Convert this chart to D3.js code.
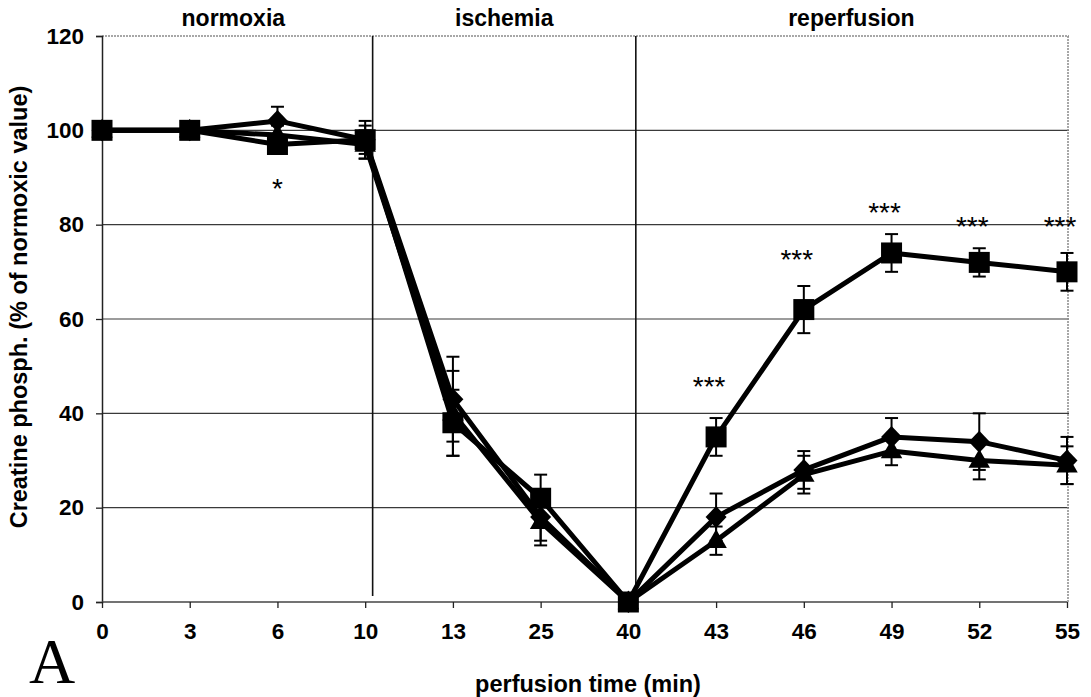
<!DOCTYPE html>
<html>
<head>
<meta charset="utf-8">
<script src="https://cdn.jsdelivr.net/npm/d3@7"></script>
<style>
  html, body { margin: 0; padding: 0; background: #fff; }
  svg text { font-family: "Liberation Sans", Arial, sans-serif; font-weight: bold; fill: #000; }
</style>
</head>
<body>
<svg id="chart" width="1091" height="697"></svg>
<script>
// Perfusion time points (min) shown as evenly spaced categories
const categories = ["0", "3", "6", "10", "13", "25", "40", "43", "46", "49", "52", "55"];

// Creatine phosphate, % of normoxic value (mean and SEM) per group
const squareMean   = [100, 100, 97, 98, 38, 22, 0, 35, 62, 74, 72, 70];
const squareErr    = [0, 0, 2, 3, 7, 5, 0, 4, 5, 4, 3, 4];
const diamondMean  = [100, 100, 102, 98, 43, 18, 0, 18, 28, 35, 34, 30];
const diamondErr   = [0, 0, 3, 4, 9, 5, 0, 5, 4, 4, 6, 5];
const triangleMean = [100, 100, 99, 97, 40, 17, 0, 13, 27, 32, 30, 29];
const triangleErr  = [0, 0, 2, 3, 9, 5, 0, 3, 4, 3, 4, 4];

const yTicks = [0, 20, 40, 60, 80, 100, 120];

// Experimental phases and the time points after which a new phase begins
const phases = ["normoxia", "ischemia", "reperfusion"];
const phaseBreaks = ["10", "40"];

// Significance markers: time point, symbol, level (% units) where it is printed
const sigTimes  = ["6", "43", "46", "49", "52", "55"];
const sigMarks  = ["*", "***", "***", "***", "***", "***"];
const sigLevels = [89, 47, 74, 84, 81, 81];

const panelLabel = "A";
const xTitle = "perfusion time (min)";
const yTitle = "Creatine phosph. (% of normoxic value)";

const svg = d3.select("#chart");
const plotLeft = 102, plotRight = 1067, plotTop = 36, plotBottom = 602;

const x = d3.scalePoint().domain(categories).range([plotLeft, plotRight]);
const step = x.step();
const y = d3.scaleLinear().domain([0, 120]).range([plotBottom, plotTop]);

// Horizontal gridlines
svg.append("g").selectAll("line")
  .data(yTicks.filter(t => t > 0 && t < 120))
  .join("line")
  .attr("x1", plotLeft).attr("x2", plotRight + 2)
  .attr("y1", d => y(d)).attr("y2", d => y(d))
  .attr("stroke", "#3a3a3a").attr("stroke-width", 1.2);

// Dotted plot-area frame (top and right)
svg.append("line")
  .attr("x1", plotLeft).attr("x2", plotRight + 2).attr("y1", y(120)).attr("y2", y(120))
  .attr("stroke", "#8a8a8a").attr("stroke-width", 1.5).attr("stroke-dasharray", "2,1");
svg.append("line")
  .attr("x1", plotRight + 1).attr("x2", plotRight + 1).attr("y1", y(120)).attr("y2", y(0))
  .attr("stroke", "#8a8a8a").attr("stroke-width", 1.5).attr("stroke-dasharray", "2,1");

// Phase separators
const breakX = phaseBreaks.map(c => x(c) + step * 0.085);
svg.append("g").selectAll("line")
  .data(breakX)
  .join("line")
  .attr("x1", d => d).attr("x2", d => d)
  .attr("y1", y(120)).attr("y2", y(0) - 6)
  .attr("stroke", "#111").attr("stroke-width", 1.6);

// Axes
const yAxis = d3.axisLeft(y).tickValues(yTicks).tickSize(6).tickPadding(12);
const gy = svg.append("g").attr("transform", `translate(${plotLeft},0)`).call(yAxis);
gy.select(".domain").attr("stroke", "#222").attr("stroke-width", 1.5);
gy.selectAll(".tick line").attr("stroke", "#222").attr("stroke-width", 1.3);
gy.selectAll(".tick text").style("font-size", "22.5px").attr("fill", "#000");

const xAxis = d3.axisBottom(x).tickSizeOuter(0).tickSize(6).tickPadding(15);
const gx = svg.append("g").attr("transform", `translate(0,${plotBottom})`).call(xAxis);
gx.select(".domain").attr("stroke", "#444").attr("stroke-width", 1.4)
  .attr("d", `M${plotLeft},0H${plotRight}`);
gx.selectAll(".tick line").attr("stroke", "#222").attr("stroke-width", 1.3);
gx.selectAll(".tick text").style("font-size", "22.5px").attr("fill", "#000");

// Phase labels centred over each phase span
const bounds = [plotLeft, ...breakX, plotRight];
svg.append("g").selectAll("text")
  .data(phases)
  .join("text")
  .attr("x", (d, i) => (bounds[i] + bounds[i + 1]) / 2 - (i === 0 ? 4 : 0))
  .attr("y", 26)
  .attr("text-anchor", "middle")
  .style("font-size", "23px")
  .text(d => d);

// Series
const series = [
  { name: "triangle", mean: triangleMean, err: triangleErr },
  { name: "diamond",  mean: diamondMean,  err: diamondErr },
  { name: "square",   mean: squareMean,   err: squareErr }
];

const line = d3.line().x((d, i) => x(categories[i])).y(d => y(d));
series.forEach(s => {
  svg.append("path")
    .attr("d", line(s.mean))
    .attr("fill", "none").attr("stroke", "#000")
    .attr("stroke-width", 5).attr("stroke-linejoin", "round");
});

// Error bars
const cap = 6.5;
series.forEach(s => {
  const g = svg.append("g").attr("stroke", "#000").attr("stroke-width", 2);
  s.mean.forEach((m, i) => {
    if (!s.err[i]) return;
    const cx = x(categories[i]);
    const y1 = y(m + s.err[i]), y2 = y(m - s.err[i]);
    g.append("line").attr("x1", cx).attr("x2", cx).attr("y1", y1).attr("y2", y2);
    g.append("line").attr("x1", cx - cap).attr("x2", cx + cap).attr("y1", y1).attr("y2", y1);
    g.append("line").attr("x1", cx - cap).attr("x2", cx + cap).attr("y1", y2).attr("y2", y2);
  });
});

// Markers
const triangleSymbol = d3.symbol().type(d3.symbolTriangle).size(200);
series.forEach(s => {
  const g = svg.append("g");
  s.mean.forEach((m, i) => {
    const cx = x(categories[i]), cy = y(m);
    if (s.name === "square") {
      g.append("rect").attr("x", cx - 10.5).attr("y", cy - 10.5)
        .attr("width", 21).attr("height", 21).attr("fill", "#000");
    } else if (s.name === "diamond") {
      g.append("path")
        .attr("d", `M${cx},${cy - 11}L${cx + 10.5},${cy}L${cx},${cy + 11}L${cx - 10.5},${cy}Z`)
        .attr("fill", "#000");
    } else {
      g.append("path").attr("transform", `translate(${cx},${cy + 1})`)
        .attr("d", triangleSymbol()).attr("fill", "#000");
    }
  });
});

// Significance asterisks
svg.append("g").selectAll("text")
  .data(sigTimes)
  .join("text")
  .attr("x", (d, i) => x(d) - (sigMarks[i].length > 1 ? 7 : 0))
  .attr("y", (d, i) => y(sigLevels[i]) + 16)
  .attr("text-anchor", "middle")
  .style("font-size", "28px").style("font-weight", "normal")
  .text((d, i) => sigMarks[i]);

// Axis titles
svg.append("text")
  .attr("x", 588).attr("y", 692)
  .attr("text-anchor", "middle")
  .style("font-size", "23.5px")
  .text(xTitle);

svg.append("text")
  .attr("transform", "translate(27,307) rotate(-90)")
  .attr("text-anchor", "middle")
  .style("font-size", "23.5px")
  .text(yTitle);

// Panel letter
svg.append("text")
  .attr("x", 29).attr("y", 683)
  .style("font-family", "'Liberation Serif', 'Times New Roman', serif")
  .style("font-weight", "normal")
  .style("font-size", "64px")
  .text(panelLabel);
</script>
</body>
</html>
